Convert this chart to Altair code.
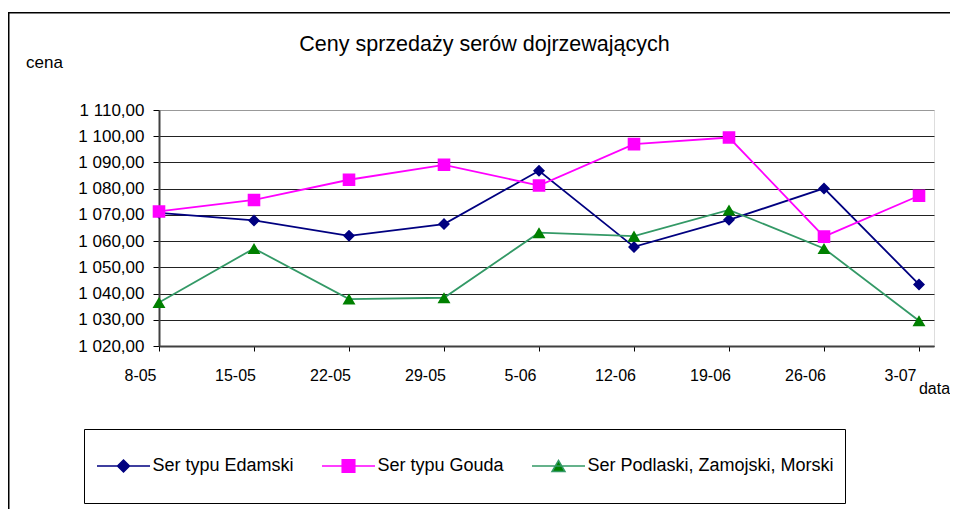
import json
import altair as alt
import pandas as pd

FONT = "Liberation Sans"

# ---- data -------------------------------------------------------------
dates = ['8-05', '15-05', '22-05', '29-05', '5-06', '12-06', '19-06', '26-06', '3-07']
series_names = ['Ser typu Edamski', 'Ser typu Gouda', 'Ser Podlaski, Zamojski, Morski']
edamski = [1070.8, 1067.9, 1062.0, 1066.5, 1086.8, 1057.8, 1068.1, 1080.1, 1043.5]
gouda = [1071.3, 1075.7, 1083.4, 1089.1, 1081.2, 1097.0, 1099.5, 1061.7, 1077.3]
podlaski = [1036.6, 1057.2, 1037.9, 1038.4, 1063.2, 1061.9, 1071.9, 1057.2, 1029.6]
y_ticks = [1020, 1030, 1040, 1050, 1060, 1070, 1080, 1090, 1100, 1110]

line_colors = ['#000080', '#FF00FF', '#339966']
marker_colors = ['#000080', '#FF00FF', '#008000']
plain_shapes = ['diamond', 'square', 'triangle-up']
# marker outline + a horizontal stub (only stroked in the legend, where a
# stroke scale is present; the filled data points show only the marker)
EXT = 'M0,-4.3L0,-4.3M0,4.3L0,4.3'
stub_shapes = [
    'M-4.42,0H4.42M0,-1L1,0L0,1L-1,0Z' + EXT,
    'M-4.42,0H4.42M-1.05,-1.05H1.05V1.05H-1.05Z' + EXT,
    'M-4.42,0H4.42M0,-0.92L1.08,0.92L-1.08,0.92Z' + EXT,
]

title_text = 'Ceny sprzedaży serów dojrzewających'
y_title = 'cena'
x_title = 'data'

rows = []
for name, vals in zip(series_names, [edamski, gouda, podlaski]):
    for i, (d, v) in enumerate(zip(dates, vals)):
        rows.append({'idx': i, 'date': d, 'value': v, 'series': name})
df = pd.DataFrame(rows)

PLOT_W, PLOT_H = 775, 236
STEP = 95

x_label_expr = json.dumps(dates) + '[datum.value]'
y_label_expr = "replace(replace(format(datum.value, ',.2f'), ',', ' '), '.', ',')"


def build(stubs):
    x = alt.X(
        'idx:Q',
        scale=alt.Scale(domain=[0, PLOT_W / STEP], nice=False, zero=False),
        axis=alt.Axis(
            values=list(range(len(dates))), labelExpr=x_label_expr,
            title=x_title, grid=False, tickSize=5, tickColor='black',
            labelPadding=16, labelOffset=-19, labelFontSize=16, labelFont=FONT,
            labelColor='black', labelOverlap=False, labelFlush=False, labelAngle=0,
            titleX=775, titleY=42, titleAlign='center', titleBaseline='middle',
            titleFontSize=16, titleFontWeight='normal', titleFont=FONT, titleColor='black',
            domainColor='#404040', domainWidth=2,
        ),
    )
    y = alt.Y(
        'value:Q',
        scale=alt.Scale(domain=[y_ticks[0], y_ticks[-1]], nice=False, zero=False),
        axis=alt.Axis(
            values=y_ticks, labelExpr=y_label_expr, title=y_title,
            titleAngle=0, titleX=-115, titleY=-48, titleAlign='center', titleBaseline='middle',
            titleFontSize=17, titleFontWeight='normal', titleFont=FONT, titleColor='black',
            tickSize=6, tickColor='black', labelPadding=9, labelFontSize=17, labelFont=FONT,
            labelColor='black',
            gridColor={'condition': {'test': 'datum.value >= 1110', 'value': '#999999'}, 'value': '#222222'},
            gridWidth=1, domainColor='#404040', domainWidth=2,
        ),
    )

    if stubs:
        legend_kwargs = dict(
            title=None, orient='none', legendX=-75, legendY=319, direction='horizontal',
            strokeColor='black', padding=10.5, symbolSize=144, symbolStrokeWidth=1.5,
            symbolOffset=20, clipHeight=53, labelFont=FONT, labelFontSize=18, labelColor='black',
            labelOffset=20, columnPadding=25, labelLimit=400, fillColor='white',
        )
        shapes = stub_shapes
    else:
        legend_kwargs = dict(
            title=None, orient='none', legendX=-75, legendY=319, direction='horizontal',
            strokeColor='black', padding=10.5, symbolSize=2809, symbolStrokeWidth=1.5,
            symbolOffset=2.5, labelFont=FONT, labelFontSize=18, labelColor='black',
            labelOffset=4, columnPadding=22, labelLimit=400, fillColor='white',
        )
        shapes = plain_shapes

    base = alt.Chart(df).encode(x=x, y=y)
    lines = base.mark_line(strokeWidth=1.8).encode(
        stroke=alt.Stroke('series:N', scale=alt.Scale(domain=series_names, range=line_colors),
                          legend=alt.Legend(**legend_kwargs) if stubs else None),
    )
    points = base.mark_point(filled=True, size=144, opacity=1).encode(
        color=alt.Color('series:N', scale=alt.Scale(domain=series_names, range=marker_colors),
                        legend=alt.Legend(**legend_kwargs)),
        shape=alt.Shape('series:N', scale=alt.Scale(domain=series_names, range=shapes),
                        legend=alt.Legend(**legend_kwargs)),
    )
    border = alt.Chart(pd.DataFrame({'a': [0]})).mark_rect(
        fillOpacity=0, stroke='black', strokeWidth=1.5
    ).encode(x=alt.value(-150.25), y=alt.value(-97.25), x2=alt.value(1000), y2=alt.value(800))

    chart = alt.layer(border, lines, points).properties(
        width=PLOT_W, height=PLOT_H,
        autosize=alt.AutoSizeParams(type='none'),
        padding={'left': 151, 'top': 102, 'right': 16, 'bottom': 163},
        title=alt.TitleParams(
            text=title_text, fontSize=21.5, font=FONT, fontWeight='normal', color='black',
            anchor='middle', dx=-62, offset=-54, frame='group', baseline='middle',
        ),
    ).configure_view(stroke='#999999', strokeWidth=2).configure(background='white')
    return chart


chart = None
for s in [True, False]:
    try:
        c = build(s)
        c.to_dict()
        chart = c
        break
    except Exception:
        continue

chart.save('out.html', embed_options={'renderer': 'svg', 'actions': False})
